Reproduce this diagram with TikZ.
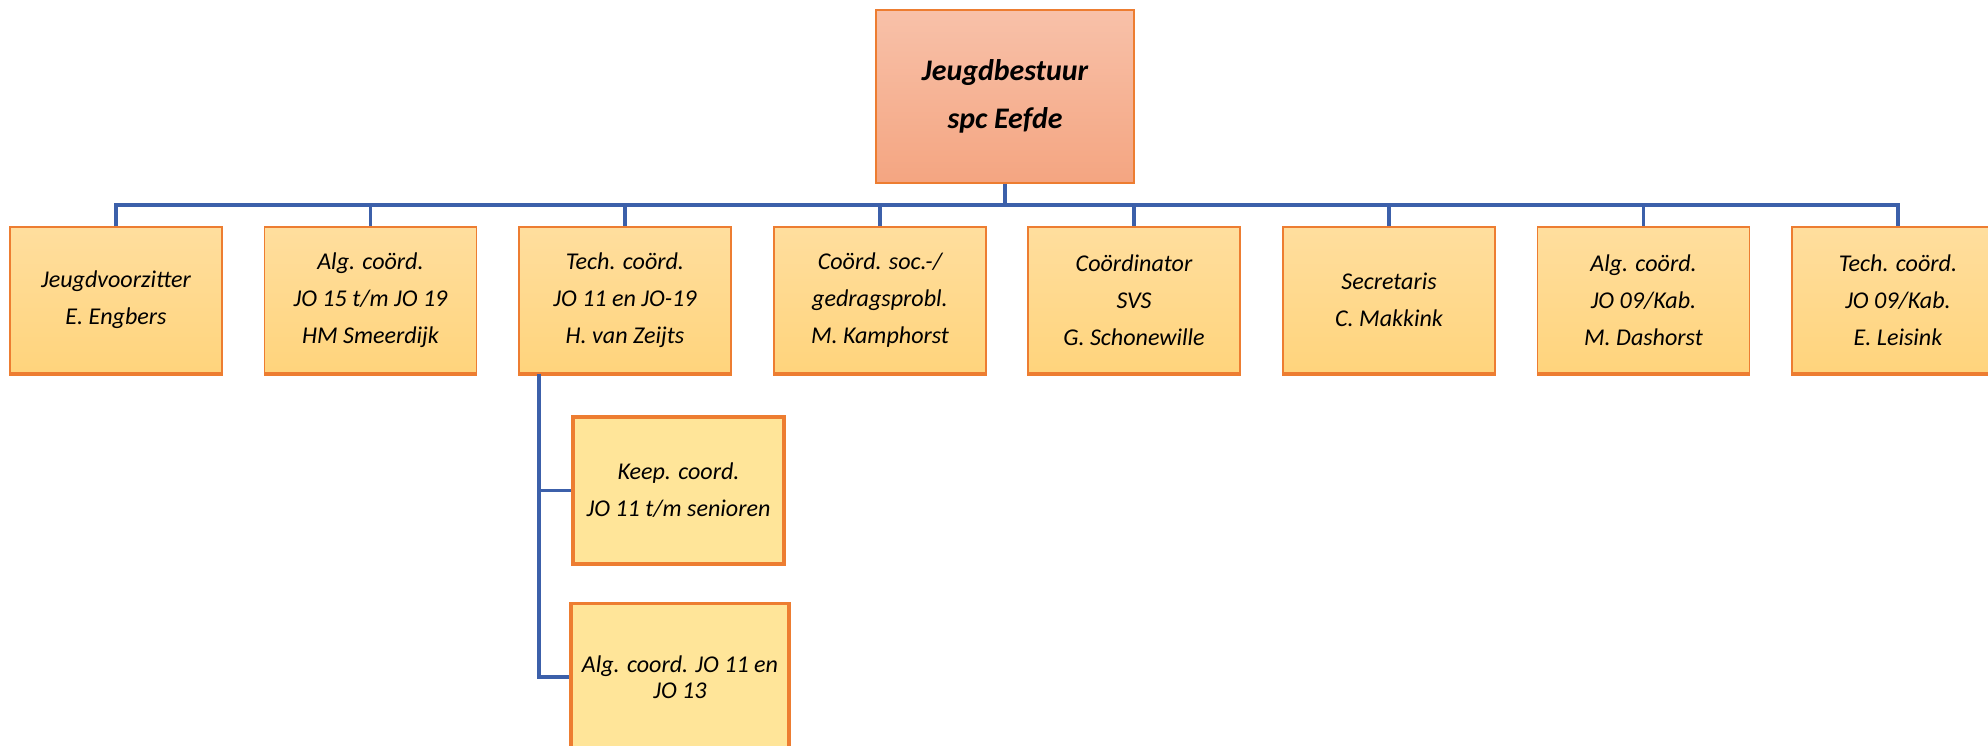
\documentclass[tikz,border=0pt]{standalone}
\usepackage{fontspec}
\setmainfont{Carlito}
\usetikzlibrary{positioning}

\definecolor{lijn}{RGB}{60,96,170}
\definecolor{rand}{RGB}{237,125,49}
\definecolor{zalmtop}{RGB}{248,193,169}
\definecolor{zalmbodem}{RGB}{244,165,129}
\definecolor{geeltop}{RGB}{255,222,158}
\definecolor{geelbodem}{RGB}{255,212,124}
\definecolor{geel}{RGB}{255,229,153}

\tikzset{
  bestuur/.style={draw=rand, line width=0.8pt, top color=zalmtop, bottom color=zalmbodem,
    minimum width=5.16cm, minimum height=3.46cm, align=center,
    font=\bfseries\itshape\fontsize{17}{27}\selectfont},
  functie/.style={draw=rand, line width=0.8pt, top color=geeltop, bottom color=geelbodem,
    minimum width=4.24cm, minimum height=2.92cm, align=center,
    font=\itshape\fontsize{13.7}{21}\selectfont},
  subfunctie/.style={draw=rand, line width=1.8pt, fill=geel, align=center,
    minimum height=2.94cm, font=\itshape\fontsize{13.7}{21}\selectfont},
  schaduw/.style={draw=rand, line width=1.6pt},
  tak/.style={draw=lijn, line width=2.2pt}
}

\begin{document}
\begin{tikzpicture}[x=0.02cm, y=-0.02cm]
    \useasboundingbox (0,0) rectangle (1988,745);

    % Jeugdbestuur
    \node[bestuur] (top) at (1005,96.5) {Jeugdbestuur\\spc Eefde};

    % Functies
    \foreach \i/\x/\tekst in {
        1/116/{Jeugdvoorzitter\\E. Engbers},
        2/370.5/{Alg. coörd.\\JO 15 t/m JO 19\\HM Smeerdijk},
        3/625/{Tech. coörd.\\JO 11 en JO-19\\H. van Zeijts},
        4/880/{Coörd. soc.-/\\gedragsprobl.\\M. Kamphorst},
        5/1134/{Coördinator\\SVS\\G. Schonewille},
        6/1389/{Secretaris\\C. Makkink},
        7/1643.5/{Alg. coörd.\\JO 09/Kab.\\M. Dashorst},
        8/1898/{Tech. coörd.\\JO 09/Kab.\\E. Leisink}}
    {
        \node[functie] (r\i) at (\x,300) {\tekst};
        \draw[schaduw] ([yshift=-0.5pt]r\i.south west) -- ([yshift=-0.5pt]r\i.south east);
    }

    % Onder Tech. coord.
    \node[subfunctie, minimum width=4.22cm] (keep) at (678.5,490.5) {Keep. coord.\\JO 11 t/m senioren};
    \node[subfunctie, minimum width=4.36cm, font=\itshape\fontsize{13.7}{14.5}\selectfont] (alg) at (680,677) {Alg. coord. JO 11 en\\JO 13};

    % Verbindingen
    \coordinate (bus) at (0,205);
    \draw[tak] (top.south) -- (top.south |- bus);
    \draw[tak] (r1.north) |- (r8.north |- bus) -- (r8.north);
    \foreach \i in {2,...,7}
        \draw[tak] (r\i.north |- bus) -- (r\i.north);
    \coordinate (stam) at ([xshift=0.42cm]r3.south west);
    \draw[tak] (stam) |- (alg.west);
    \draw[tak] (stam |- keep.west) -- (keep.west);
\end{tikzpicture}
\end{document}
